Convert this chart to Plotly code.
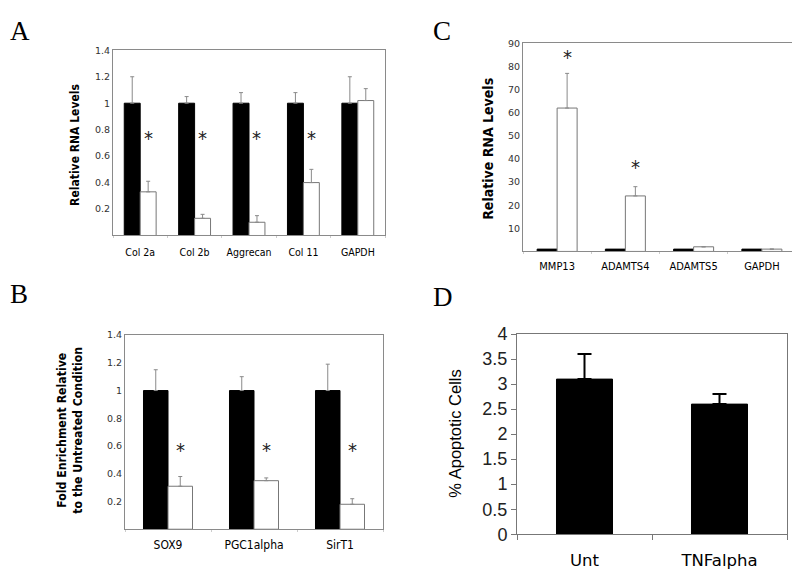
import plotly.graph_objects as go

W, H = 800, 569

# ---------------- data ----------------
a_cats = ["Col 2a", "Col 2b", "Aggrecan", "Col 11", "GAPDH"]
a_ctrl = [1, 1, 1, 1, 1]
a_ctrl_err = [0.20, 0.05, 0.08, 0.08, 0.20]
a_tnf = [0.33, 0.13, 0.10, 0.40, 1.02]
a_tnf_err = [0.08, 0.03, 0.05, 0.10, 0.09]
a_star = [0.74, 0.74, 0.74, 0.74, None]
a_ticks = [0.2, 0.4, 0.6, 0.8, 1, 1.2, 1.4]

c_cats = ["MMP13", "ADAMTS4", "ADAMTS5", "GAPDH"]
c_ctrl = [1, 1, 1, 1]
c_tnf = [62, 24, 2, 1]
c_tnf_err = [15, 4, 0, 0]
c_star = [84, 36.5, None, None]
c_ticks = [10, 20, 30, 40, 50, 60, 70, 80, 90]

b_cats = ["SOX9", "PGC1alpha", "SirT1"]
b_ctrl = [1, 1, 1]
b_ctrl_err = [0.15, 0.10, 0.19]
b_tnf = [0.31, 0.35, 0.18]
b_tnf_err = [0.07, 0.02, 0.04]
b_star = [0.57, 0.57, 0.57]
b_ticks = [0.2, 0.4, 0.6, 0.8, 1, 1.2, 1.4]

d_cats = ["Unt", "TNFalpha"]
d_vals = [3.1, 2.6]
d_err = [0.5, 0.2]
d_ticks = [0, 0.5, 1, 1.5, 2, 2.5, 3, 3.5, 4]

COND = "DejaVu Sans Condensed, DejaVu Sans, sans-serif"
GRAY = "#8a8a8a"

# page-placement compensation (rendered px -> layout px)
OX, OY, SY = 8.0, 17.1, 0.969


def fx(px):
    return (px - OX) / W


def fy(py):
    return 1 - (py / SY - OY) / H


def dom_x(a, b):
    return [fx(a), fx(b)]


def dom_y(top, bottom):
    return [fy(bottom), fy(top)]


fig = go.Figure()


def paired(cats, ctrl, ctrl_err, tnf, tnf_err, w, xa, ya):
    ek = dict(type="data", symmetric=False, color=GRAY, thickness=1, width=2)
    e1 = dict(ek, array=ctrl_err, arrayminus=[0] * len(cats)) if ctrl_err else dict(visible=False)
    fig.add_trace(go.Bar(x=cats, y=ctrl, width=w, offset=-w,
                         marker=dict(color="black", line=dict(color="black", width=1)),
                         error_y=e1, xaxis=xa, yaxis=ya, showlegend=False))
    fig.add_trace(go.Bar(x=cats, y=tnf, width=w, offset=0,
                         marker=dict(color="white", line=dict(color="#777", width=1)),
                         error_y=dict(ek, array=tnf_err, arrayminus=[0] * len(cats)),
                         xaxis=xa, yaxis=ya, showlegend=False))


wA, wC, wB = 0.293, 0.293, 0.285
paired(a_cats, a_ctrl, a_ctrl_err, a_tnf, a_tnf_err, wA, "x", "y")
paired(c_cats, c_ctrl, None, c_tnf, c_tnf_err, wC, "x2", "y2")
paired(b_cats, b_ctrl, b_ctrl_err, b_tnf, b_tnf_err, wB, "x3", "y3")

wD = 0.415
fig.add_trace(go.Bar(x=d_cats, y=d_vals, width=wD,
                     marker=dict(color="black", line=dict(color="black", width=1)),
                     error_y=dict(type="data", symmetric=False, array=d_err,
                                  arrayminus=[0, 0], color="black", thickness=2, width=7),
                     xaxis="x4", yaxis="y4", showlegend=False))

annotations = []


def stars(vals, w, xr, yr):
    for i, v in enumerate(vals):
        if v is None:
            continue
        annotations.append(dict(x=i + w / 2, y=v, xref=xr, yref=yr, text="*",
                                showarrow=False, yanchor="middle",
                                font=dict(size=20, color="#222", family=COND)))


stars(a_star, wA, "x", "y")
stars(c_star, wC, "x2", "y2")
stars(b_star, wB, "x3", "y3")


def ylab(text, xpx, ypx, size, bold=True, family=COND):
    annotations.append(dict(x=fx(xpx), y=fy(ypx), xref="paper", yref="paper",
                            text=("<b>%s</b>" % text) if bold else text, textangle=-90,
                            showarrow=False, xanchor="center", yanchor="middle",
                            font=dict(size=size, color="black", family=family)))


ylab("Relative RNA Levels", 75, 144, 12)
ylab("Relative RNA Levels", 488, 148, 14)
ylab("Fold Enrichment Relative<br>to the Untreated Condition", 70, 431, 12.2)
ylab("% Apoptotic Cells", 455, 434, 16.5, bold=False, family="Liberation Sans, Arial, sans-serif")

LETTER_FONT = dict(size=27, color="black", family="Liberation Serif, Times New Roman, serif")
# top row letters sit at the very top of the drawing area
for letter, xl in [("A", 0), ("C", 423)]:
    annotations.append(dict(x=xl / W, y=1, xref="paper", yref="paper", text=letter,
                            showarrow=False, xanchor="left", yanchor="top", yshift=4,
                            font=LETTER_FONT))
for letter, xl, ypx in [("B", 0, 277), ("D", 423, 280)]:
    annotations.append(dict(x=xl / W, y=fy(ypx), xref="paper", yref="paper", text=letter,
                            showarrow=False, xanchor="left", yanchor="top",
                            font=LETTER_FONT))

small_tick = dict(size=9.5, color="#333", family="DejaVu Sans, sans-serif")


def xax(dom, anchor, fsize, lc=GRAY, standoff=4):
    return dict(domain=dom, anchor=anchor, type="category", showline=True, mirror=True,
                linecolor=lc, linewidth=1, showgrid=False, zeroline=False,
                ticks="outside", tickson="boundaries", ticklen=2, tickcolor="#ccc",
                ticklabelstandoff=standoff, tickangle=0,
                tickfont=dict(size=fsize, color="black", family=COND), fixedrange=True)


def yax(dom, anchor, rng, tv, tf, lc=GRAY, ticks=""):
    return dict(domain=dom, anchor=anchor, range=rng, tickvals=tv,
                ticktext=[("%g" % t) for t in tv], showline=True, mirror=True,
                linecolor=lc, linewidth=1, showgrid=False, zeroline=False, ticks=ticks,
                ticklen=5, tickcolor=lc, tickfont=tf, fixedrange=True)


fig.update_layout(
    width=W, height=H, margin=dict(l=0, r=0, t=0, b=0),
    paper_bgcolor="white", plot_bgcolor="white", barmode="overlay",
    xaxis=xax(dom_x(113, 385), "y", 10.5, standoff=7),
    yaxis=yax(dom_y(49, 235), "x", [0, 1.4], a_ticks, small_tick),
    xaxis2=xax(dom_x(523, 796), "y2", 11),
    yaxis2=yax(dom_y(42, 251), "x2", [0, 90], c_ticks, small_tick),
    xaxis3=xax(dom_x(125, 383), "y3", 12),
    yaxis3=yax(dom_y(335, 530), "x3", [0, 1.4], b_ticks, small_tick),
    xaxis4=dict(xax(dom_x(517, 787), "y4", 16, lc="#777", standoff=11),
                tickfont=dict(size=16.5, color="black", family="DejaVu Sans, sans-serif"),
                ticklen=5, tickcolor="#777"),
    yaxis4=yax(dom_y(334, 535), "x4", [0, 4], d_ticks,
               dict(size=18, color="#222", family="Liberation Sans, Arial, sans-serif"),
               lc="#777", ticks="outside"),
    annotations=annotations,
)

fig.write_html("out.html")
